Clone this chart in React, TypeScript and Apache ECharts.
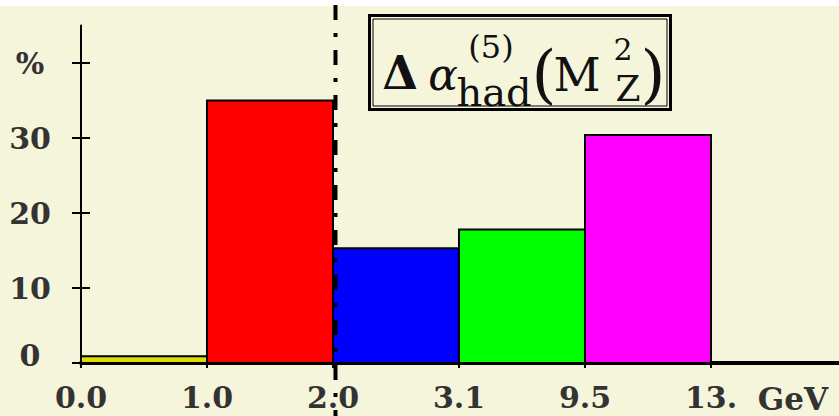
import React, { useEffect, useRef } from "react";
import * as echarts from "echarts";

// bin edges (as tick labels) and the share of each bin in %
const edgeLabels = ["0.0", "1.0", "2.0", "3.1", "9.5", "13."];
const binStart = [0, 1, 2, 3, 4];
const binEnd = [1, 2, 3, 4, 5];
const shares = [0.9, 35.0, 15.3, 17.8, 30.4];
const binColors = ["#dcdc00", "#ff0000", "#0000ff", "#00ff00", "#ff00ff"];
const yTicks = [0, 10, 20, 30, 40];
const yTopLabel = "%";
const unitLabel = "GeV";
const cutEdge = 2; // position of the dash-dotted separator (edge index)

const FONT = "DejaVu Serif";
const LBL = 30;
const LCOL = "#333";

export default function App() {
  const ref = useRef<HTMLDivElement>(null);
  useEffect(() => {
    const chart = echarts.init(ref.current!, undefined, { renderer: "svg" });
    const data = binStart.map((s, i) => [s, binEnd[i], shares[i]]);
    chart.setOption({
      animation: false,
      backgroundColor: "#f5f5dc",
      grid: { left: 81, right: 0, top: 25.5, bottom: 53 },
      xAxis: {
        type: "value",
        min: 0,
        max: 6.016,
        interval: 1,
        splitLine: { show: false },
        axisLine: { show: true, lineStyle: { color: "#000", width: 4 } },
        axisTick: {
          show: true,
          length: 5,
          lineStyle: { color: "#000", width: 2 },
          customValues: edgeLabels.map((_, i) => i),
        },
        axisLabel: {
          customValues: edgeLabels.map((_, i) => i),
          formatter: (v: number) => edgeLabels[Math.round(v)] ?? "",
          fontFamily: FONT,
          fontSize: LBL,
          fontWeight: "bold",
          color: LCOL,
          margin: 19,
        },
      },
      yAxis: [
        {
          type: "value",
          min: 0,
          max: 45,
          interval: 10,
          splitLine: { show: false },
          axisLine: { show: true, lineStyle: { color: "#000", width: 2 } },
          axisTick: {
            show: true,
            length: 9,
            lineStyle: { color: "#000", width: 2 },
            customValues: yTicks,
          },
          axisLabel: {
            customValues: yTicks,
            align: "center",
            margin: 51,
            fontFamily: FONT,
            fontSize: LBL,
            fontWeight: "bold",
            color: LCOL,
            formatter: (v: number) =>
              v === yTicks[yTicks.length - 1] ? yTopLabel : v === 0 ? "{z|0}" : String(v),
            rich: {
              z: {
                fontFamily: FONT,
                fontSize: LBL,
                fontWeight: "bold",
                color: LCOL,
                padding: [0, 0, 16, 0],
              },
            },
          },
        },
        {
          type: "value",
          min: 0,
          max: 45,
          interval: 10,
          position: "left",
          splitLine: { show: false },
          axisLine: { show: false },
          axisLabel: { show: false },
          axisTick: {
            show: true,
            inside: true,
            length: 9,
            lineStyle: { color: "#000", width: 2 },
            customValues: yTicks,
          },
        },
      ],
      series: [
        {
          type: "custom",
          yAxisIndex: 0,
          data,
          encode: { x: [0, 1], y: 2 },
          renderItem: (params: any, api: any) => {
            const p0 = api.coord([api.value(0), api.value(2)]);
            const p1 = api.coord([api.value(1), 0]);
            return {
              type: "rect",
              shape: { x: p0[0], y: p0[1], width: p1[0] - p0[0], height: p1[1] - p0[1] },
              style: { fill: binColors[params.dataIndex], stroke: "#000", lineWidth: 2 },
            };
          },
        },
      ],
    });

    const cutX = chart.convertToPixel({ xAxisIndex: 0 }, cutEdge) + 2.5;
    const lastX = chart.convertToPixel({ xAxisIndex: 0 }, edgeLabels.length - 1);
    const axisY = chart.convertToPixel({ yAxisIndex: 0 }, 0);
    const txt = (text: string, x: number, y: number, size: number, extra: any = {}) => ({
      type: "text",
      x,
      y,
      style: {
        text,
        fontFamily: FONT,
        fontSize: size,
        fill: "#111",
        align: "center",
        verticalAlign: "middle",
        ...extra,
      },
    });
    chart.setOption({
      graphic: [
        { type: "rect", shape: { x: 0, y: 0, width: 839, height: 6 }, style: { fill: "#ffffff" } },
        txt(unitLabel, lastX + 82, axisY + 36, 31, { fontWeight: "bold", fill: LCOL }),
        {
          type: "rect",
          shape: { x: 369.5, y: 15.5, width: 301, height: 94 },
          style: { fill: "none", stroke: "#000", lineWidth: 3 },
        },
        {
          type: "rect",
          shape: { x: 373, y: 19, width: 294, height: 87 },
          style: { fill: "none", stroke: "#000", lineWidth: 1 },
        },
        txt("Δ", 400, 73, 46, { fontWeight: "bold" }),
        txt("α", 443, 74, 44, { fontStyle: "italic" }),
        txt("(5)", 491, 47, 32),
        txt("had", 494, 92, 40),
        txt("(", 544, 74, 64),
        txt("M", 577, 75, 46),
        txt("2", 623, 49, 30),
        txt("Z", 628, 88, 36),
        txt(")", 653, 74, 64),
        {
          type: "line",
          z: 100,
          shape: { x1: cutX, y1: 5, x2: cutX, y2: 416 },
          style: { stroke: "#000", lineWidth: 4, lineDash: [15, 13, 4, 13] },
        },
      ],
    });
    return () => chart.dispose();
  }, []);
  return (
    <div
      ref={ref}
      style={{ position: "fixed", left: 0, top: 0, width: 839, height: 416, background: "#f5f5dc" }}
    />
  );
}
